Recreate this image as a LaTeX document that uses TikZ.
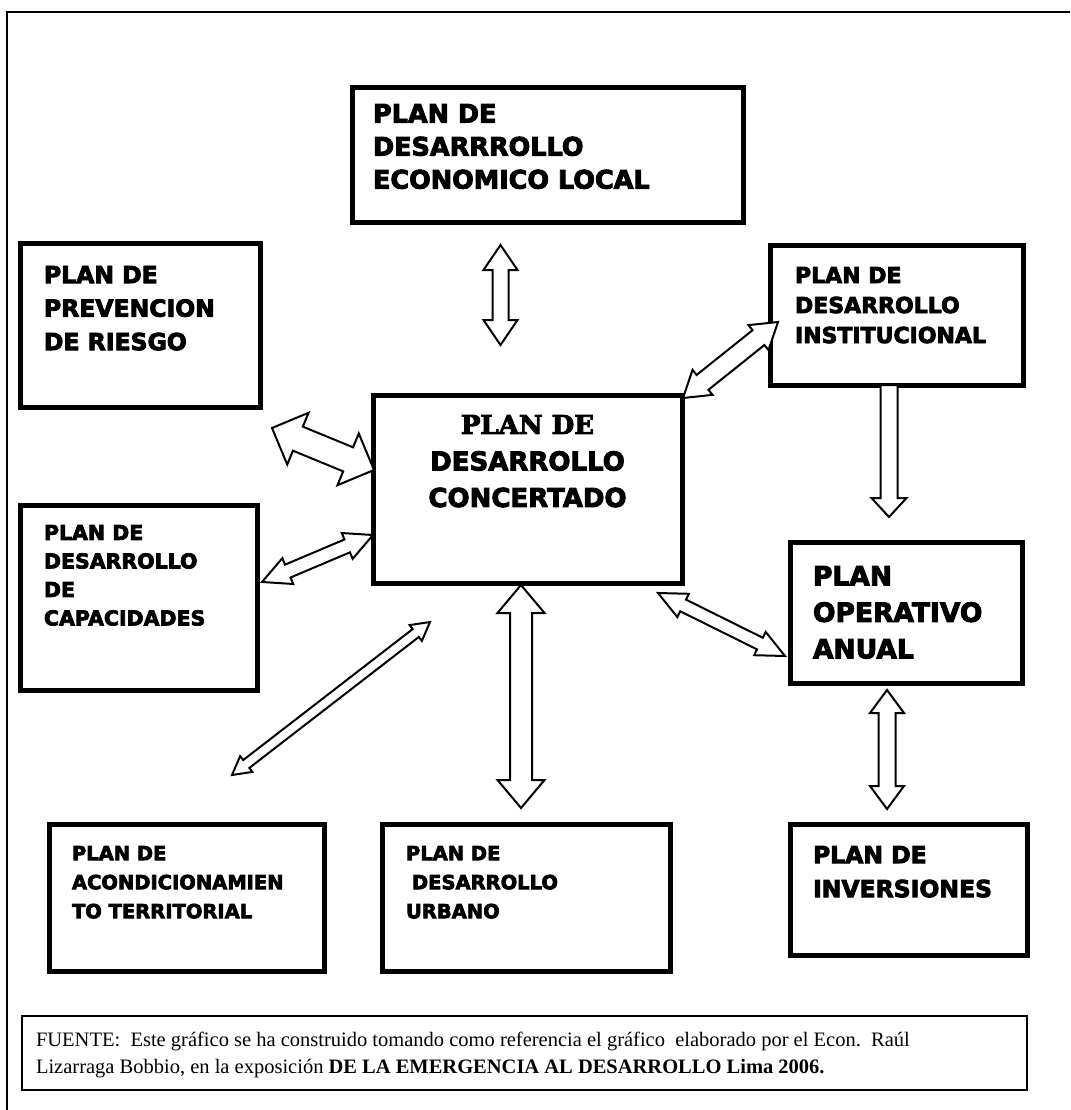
\documentclass[tikz,border=0pt]{standalone}
\usepackage{fontspec}
\setmainfont{Liberation Serif}
\newfontfamily\boxfont{DejaVu Sans}[BoldFeatures={FakeBold=3.5}]
\newfontfamily\slabfont{DejaVu Serif}[BoldFeatures={FakeBold=3.5}]
\usetikzlibrary{calc}
\newcommand\fs[2]{\fontsize{#1}{#2}\selectfont}
% double-headed block arrow: tipA, tipB, shaft half width, head half width, head length
\newcommand\DblArrow[5]{%
  \coordinate (tA) at (#1); \coordinate (tB) at (#2);
  \coordinate (bA) at ($(tA)!#5!(tB)$);
  \coordinate (bB) at ($(tB)!#5!(tA)$);
  \draw[barrow] (tA) -- ($(bA)!#4!90:(tA)$) -- ($(bA)!#3!90:(tA)$)
     -- ($(bB)!#3!-90:(tB)$) -- ($(bB)!#4!-90:(tB)$) -- (tB)
     -- ($(bB)!#4!90:(tB)$) -- ($(bB)!#3!90:(tB)$)
     -- ($(bA)!#3!-90:(tA)$) -- ($(bA)!#4!-90:(tA)$) -- cycle;}
% single-headed block arrow: tail, tip, shaft half width, head half width, head length
\newcommand\SglArrow[5]{%
  \coordinate (tA) at (#1); \coordinate (tB) at (#2);
  \coordinate (bB) at ($(tB)!#5!(tA)$);
  \draw[barrow] ($(tA)!#3!-90:(tB)$) -- ($(bB)!#3!-90:(tB)$) -- ($(bB)!#4!-90:(tB)$)
     -- (tB) -- ($(bB)!#4!90:(tB)$) -- ($(bB)!#3!90:(tB)$) -- ($(tA)!#3!90:(tB)$) -- cycle;}
\tikzset{
  box/.style={draw, line width=5pt, rectangle, inner sep=0pt, outer sep=0pt, anchor=north west, fill=white},
  lbl/.style={inner sep=0pt, outer sep=0pt, anchor=north west, align=left, font=\boxfont\bfseries},
  barrow/.style={draw, line width=2pt, fill=white, line join=miter, miter limit=4},
  note/.style={draw, line width=1.3pt, rectangle, inner sep=0pt, outer sep=0pt, anchor=north west},
}
\begin{document}
\begin{tikzpicture}[x=1pt, y=-1pt]
\useasboundingbox (0,0) rectangle (1070,1110);
\fill[white] (0,0) rectangle (1070,1110);
% outer frame (top and left)
\draw[line width=2.5pt] (7,1110) -- (7,12) -- (1070,12);

% boxes
\node[box, minimum width=391pt, minimum height=134pt] (econ) at (352,88) {};
\node[box, minimum width=240pt, minimum height=164pt] (prev) at (20,243) {};
\node[box, minimum width=253pt, minimum height=140pt] (inst) at (770,245) {};
\node[box, minimum width=309pt, minimum height=188pt] (conc) at (373,395) {};
\node[box, minimum width=237pt, minimum height=185pt] (capa) at (20,505) {};
\node[box, minimum width=232pt, minimum height=141pt] (oper) at (790,542) {};
\node[box, minimum width=275pt, minimum height=147pt] (acond) at (49,824) {};
\node[box, minimum width=288pt, minimum height=147pt] (urb) at (382,824) {};
\node[box, minimum width=237pt, minimum height=131pt] (inv) at (790,824) {};
\node[note, minimum width=1005pt, minimum height=74pt] (foot) at (22,1016) {};

% arrows
\DblArrow{$(econ.south)+(-47,23)$}{$(conc.north)+(-27,-50)$}{8pt}{17pt}{25pt}
\DblArrow{$(prev.south east)+(12,21)$}{$(conc.north west)+(1,75)$}{13pt}{28pt}{28pt}
\DblArrow{$(conc.north east)+(1,3)$}{$(inst.north west)+(8,77)$}{9.5pt}{16pt}{25pt}
\DblArrow{$(conc.south east)+(-24,10)$}{$(oper.north west)+(-5,114)$}{6.5pt}{13pt}{28pt}
\DblArrow{$(capa.north east)+(5,77)$}{$(conc.north west)+(0,140)$}{7pt}{14pt}{28pt}
\DblArrow{$(acond.north)+(45.5,-49)$}{$(conc.south west)+(57,39)$}{5pt}{10pt}{18pt}
\DblArrow{$(conc.south)+(-6.5,2)$}{$(urb.north)+(-5,-16)$}{11pt}{23.5pt}{28pt}
\DblArrow{$(oper.south)+(-19,7)$}{$(inv.north)+(-21.5,-15)$}{8.5pt}{17pt}{23pt}
\SglArrow{$(inst.south)+(-7.5,0)$}{$(oper.north)+(-17,-25)$}{8.5pt}{17.5pt}{19pt}

% labels
\node[lbl, font=\boxfont\bfseries\fs{25.5}{33}] (econT) at (373,104) {PLAN DE\\DESARRROLLO\\ECONOMICO LOCAL};
\node[lbl, font=\boxfont\bfseries\fs{23.5}{33.5}] (prevT) at (44,266) {PLAN DE\\PREVENCION\\DE RIESGO};
\node[lbl, font=\boxfont\bfseries\fs{22}{30}] (instT) at (795,267) {PLAN DE\\DESARROLLO\\INSTITUCIONAL};
\node[lbl, anchor=north, align=center, font=\boxfont\bfseries\fs{26}{36.5}] (concT) at (527.5,415) {{\slabfont\bfseries PLAN DE}\\DESARROLLO\\CONCERTADO};
\node[lbl, font=\boxfont\bfseries\fs{20.5}{28.5}] (capaT) at (44,525) {PLAN DE\\DESARROLLO\\DE\\CAPACIDADES};
\node[lbl, font=\boxfont\bfseries\fs{26.5}{36.5}] (operT) at (813,566) {PLAN\\OPERATIVO\\ANUAL};
\node[lbl, font=\boxfont\bfseries\fs{19.5}{29}] (acondT) at (72,846) {PLAN DE\\ACONDICIONAMIEN\\TO TERRITORIAL};
\node[lbl, font=\boxfont\bfseries\fs{19.5}{29}] (urbT) at (406,846) {PLAN DE\\\hspace*{6pt}DESARROLLO\\URBANO};
\node[lbl, font=\boxfont\bfseries\fs{23.5}{34}] (invT) at (813,846) {PLAN DE\\INVERSIONES};
\node[lbl, font=\fs{20.5}{27}] (footT) at (36,1032) {FUENTE:\ \ Este gráfico se ha construido tomando como referencia el gráfico\ \ elaborado por el Econ.\ \ Raúl\\Lizarraga Bobbio, en la exposición \textbf{DE LA EMERGENCIA AL DESARROLLO Lima 2006.}};
\end{tikzpicture}
\end{document}
